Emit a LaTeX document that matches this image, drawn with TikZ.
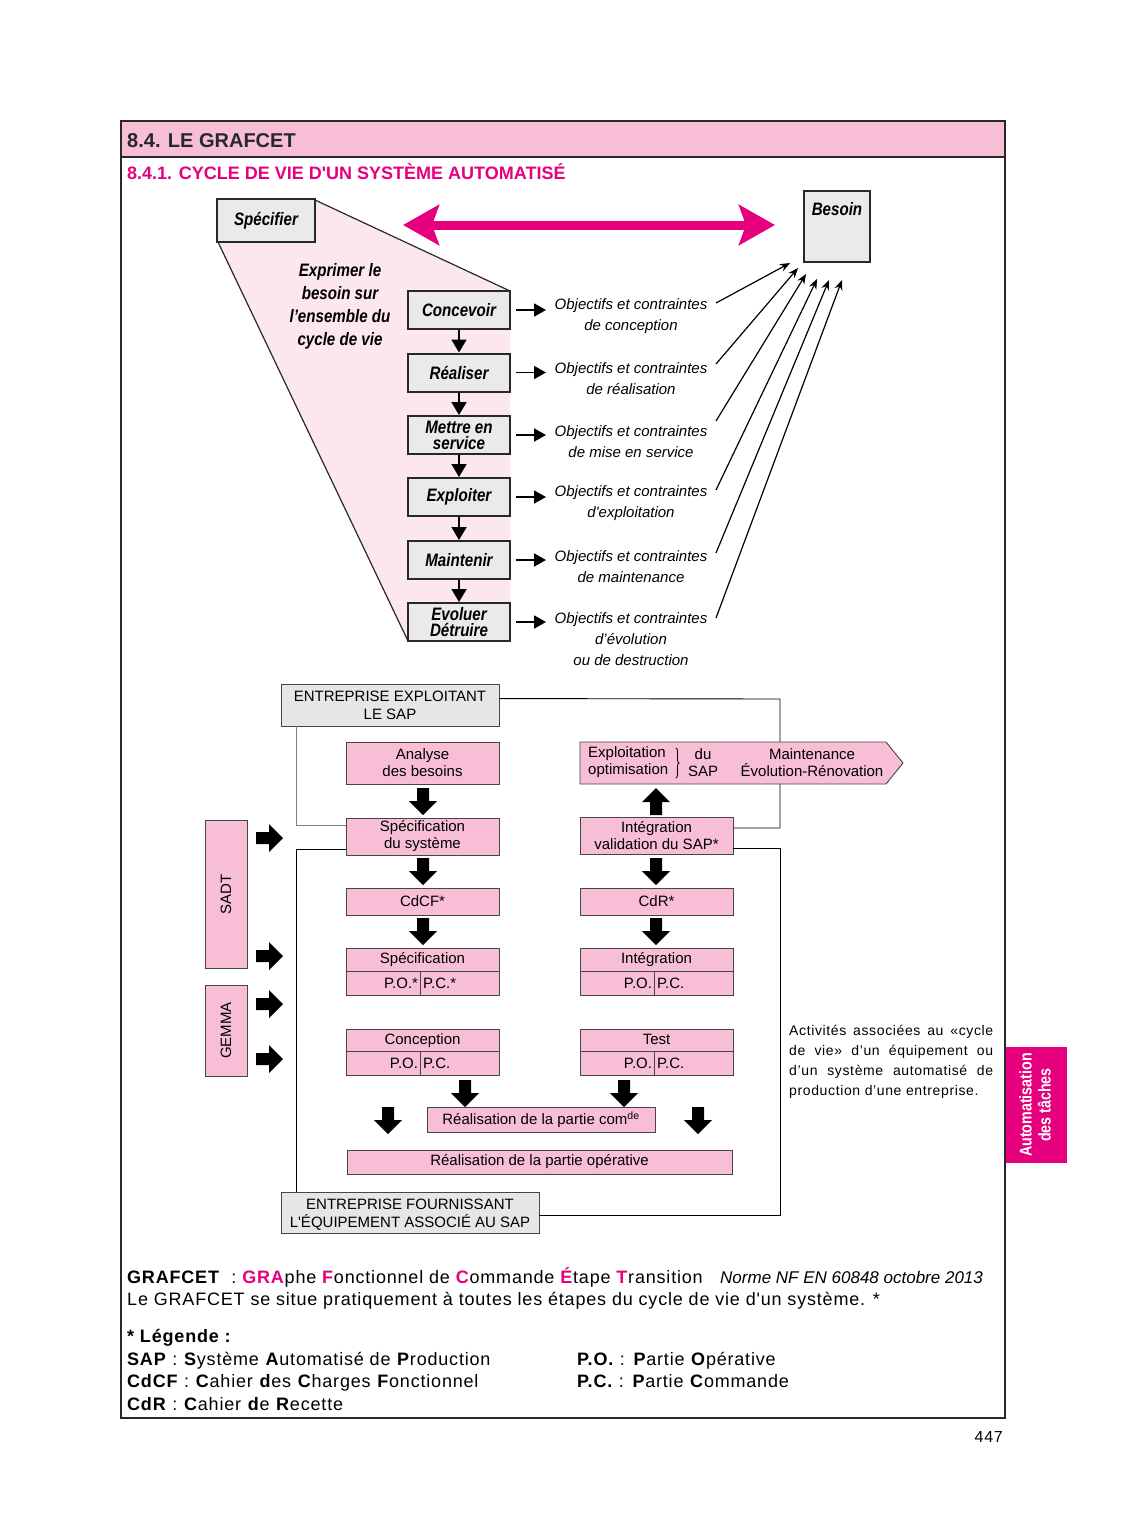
\documentclass[tikz,border=0pt]{standalone}
\usepackage{fontspec}
\setmainfont{Liberation Sans}[Ligatures=TeXOff]
\newfontfamily\cond[FakeStretch=0.84]{Liberation Sans}
\newfontfamily\trk[LetterSpace=4.5]{Liberation Sans}
\usetikzlibrary{arrows.meta,decorations.pathreplacing,calc}
\definecolor{mag}{RGB}{230,0,126}
\definecolor{pinkbox}{RGB}{247,190,214}
\definecolor{lpink}{RGB}{252,230,239}
\definecolor{greybox}{RGB}{234,234,234}
\definecolor{greybox2}{RGB}{230,230,230}
\definecolor{dk}{RGB}{40,40,40}
\definecolor{dk2}{RGB}{70,70,70}
\tikzset{
 topbox/.style={draw=dk, line width=2, fill=greybox, inner sep=0, align=center, minimum width=102, minimum height=38, font=\cond\bfseries\itshape\fontsize{18}{16}\selectfont},
 objtext/.style={font=\itshape\fontsize{15}{21}\selectfont, align=center, inner sep=0},
 pbox/.style={draw=dk2, line width=0.9, fill=pinkbox, inner sep=0, align=center, font=\fontsize{15}{17}\selectfont, minimum width=153},
 gbox/.style={draw=dk2, line width=0.9, fill=greybox2, inner sep=0, align=center, font=\fontsize{15}{18}\selectfont},
 wire/.style={line width=0.9, draw=black},
 darr/.style={line width=1.8, -{Triangle[length=13pt,width=15pt]}},
 rarr/.style={line width=1.8, -{Triangle[length=12pt,width=13pt]}},
 barr/.style={line width=1.2, -{Stealth[length=10pt,width=8pt]}},
 lcell/.style={pbox, minimum width=74, minimum height=24, text width=70, align=right, inner xsep=2},
 rcell/.style={pbox, minimum width=79, minimum height=24, text width=73, align=left, inner xsep=3},
 legend/.style={anchor=base west, inner sep=0, font=\trk\fontsize{18}{22}\selectfont},
 pics/barrow/.style={code={\fill[black] (-6,0) -- (6,0) -- (6,13) -- (14,13) -- (0,27) -- (-14,13) -- (-6,13) -- cycle;}}
}
\begin{document}
\begin{tikzpicture}[x=1pt,y=-1pt]
\useasboundingbox (0,0) rectangle (1125,1539);
\fill[white] (0,0) rectangle (1125,1539);
% header
\fill[pinkbox] (121,121) rectangle (1005,157);
\draw[line width=2, draw=dk] (121,157) -- (1005,157);
\fill[mag] (1005,1047) rectangle (1067,1163);
\draw[line width=2, draw=dk] (121,121) rectangle (1005,1418);
\node[anchor=base west, inner sep=0, font=\bfseries\fontsize{20}{22}\selectfont, text=dk] (h1) at (127,147) {8.4. LE GRAFCET};
\node[anchor=base west, inner sep=0, font=\bfseries\fontsize{18}{22}\selectfont, text=mag] (h2) at (127,179) {8.4.1. CYCLE DE VIE D'UN SYSTÈME AUTOMATISÉ};
\node[rotate=90, font=\cond\bfseries\fontsize{17}{19}\selectfont, text=white, align=center, inner sep=0] (tab) at (1035,1105) {Automatisation\\des tâches};

% top diagram
\fill[lpink] (315,200) -- (510,291) -- (510,641) -- (408,641) -- (218,242) -- (315,242) -- cycle;
\draw[line width=1.2, draw=dk] (315,200) -- (510,291);
\draw[line width=1.2, draw=dk] (218,242) -- (408,641);
\node[topbox, minimum width=98, minimum height=43] (spec) at (266,220.5) {Spécifier};
\node[font=\cond\bfseries\itshape\fontsize{18}{23}\selectfont, align=center, inner sep=0] (expr) at (340,306) {Exprimer le\\besoin sur\\l’ensemble du\\cycle de vie};
\node[topbox] (b1) at (459,310) {Concevoir};
\node[topbox] (b2) at (459,372.5) {Réaliser};
\node[topbox] (b3) at (459,435) {Mettre en\\service};
\node[topbox] (b4) at (459,497) {Exploiter};
\node[topbox] (b5) at (459,560) {Maintenir};
\node[topbox] (b6) at (459,622) {Evoluer\\Détruire};
\foreach \a/\b in {b1/b2,b2/b3,b3/b4,b4/b5,b5/b6} \draw[darr] (\a.south) -- (\b.north);
\foreach \a in {b1,b2,b3,b4,b5,b6} \draw[rarr] ($(\a.east)+(5,0)$) -- ($(\a.east)+(35,0)$);
\node[objtext] (o1) at (631,316.5) {Objectifs et contraintes\\de conception};
\node[objtext] (o2) at (631,378.5) {Objectifs et contraintes\\de réalisation};
\node[objtext] (o3) at (631,441.5) {Objectifs et contraintes\\de mise en service};
\node[objtext] (o4) at (631,503.5) {Objectifs et contraintes\\d'exploitation};
\node[objtext] (o5) at (631,566.5) {Objectifs et contraintes\\de maintenance};
\node[objtext] (o6) at (631,639) {Objectifs et contraintes\\d’évolution\\ou de destruction};
\node[topbox, minimum width=66, minimum height=71] (besoin) at (837,226.5) {};
\node[font=\cond\bfseries\itshape\fontsize{18}{16}\selectfont, inner sep=0] (besl) at (837,209) {Besoin};
\coordinate (s1) at (716,303); \coordinate (t1) at (790,263);
\coordinate (s2) at (716,364); \coordinate (t2) at (798,268);
\coordinate (s3) at (716,421); \coordinate (t3) at (806,274);
\coordinate (s4) at (716,490); \coordinate (t4) at (817,279);
\coordinate (s5) at (716,553); \coordinate (t5) at (829,280);
\coordinate (s6) at (716,618); \coordinate (t6) at (842,280);
\foreach \i in {1,...,6} \draw[barr] (s\i) -- (t\i);
\coordinate (ml) at (403,225); \coordinate (mr) at (775,225);
\draw[draw=mag, line width=9, {Stealth[length=36pt,width=40pt,inset=7pt]}-{Stealth[length=36pt,width=40pt,inset=7pt]}] (ml) -- (mr);

% middle diagram
\node[gbox, minimum width=218, minimum height=42] (ee) at (390,705) {ENTREPRISE EXPLOITANT\\LE SAP};
\node[pbox, minimum height=37] (intv) at (656.5,835.5) {Intégration\\validation du SAP*};
\node[pbox, minimum height=37] (specsys) at (422.5,836.5) {Spécification\\du système};
\node[gbox, minimum width=258, minimum height=41] (ef) at (410,1212.5) {};
% wires (behind the boxes)
\coordinate (c1) at (780,699); \coordinate (c2) at (780,828); \coordinate (c3) at (780,1215);
\draw[wire] ($(ee.north east)+(0,15)$) -- (c1) -- (c2) -- (c2 -| intv.east);
\draw[wire] ($(intv.south east)+(0,-6)$) -| (c3) -- (c3 -| ef.east);
\draw[wire, draw=gray] ($(ee.south west)+(16,0)$) |- ($(specsys.north west)+(0,8)$);
\draw[wire] ($(specsys.south west)+(0,-6)$) -| ($(ef.north west)+(16,0)$);
\node[font=\fontsize{15}{18}\selectfont, align=center, inner sep=0] (eft) at (410,1215) {ENTREPRISE FOURNISSANT\\L'ÉQUIPEMENT ASSOCIÉ AU SAP};
\node[pbox, minimum height=42] (ana) at (422.5,763) {Analyse\\des besoins};
\node[pbox, minimum height=27] (cdcf) at (422.5,901.5) {CdCF*};
\node[pbox, minimum height=23, text height=11, text depth=3] (spt) at (422.5,959.5) {Spécification};
\node[lcell] (spo) at (383,983) {P.O.*};
\node[rcell] (spc) at (459.5,983) {P.C.*};
\node[pbox, minimum height=23, text height=11, text depth=3] (cot) at (422.5,1040.5) {Conception};
\node[lcell] (cpo) at (383,1063.5) {P.O.};
\node[rcell] (cpc) at (459.5,1063.5) {P.C.};
\node[pbox, minimum height=27] (cdr) at (656.5,901.5) {CdR*};
\node[pbox, minimum height=23, text height=11, text depth=3] (itt) at (656.5,959.5) {Intégration};
\node[lcell] (ipo) at (617,983) {P.O.};
\node[rcell] (ipc) at (693.5,983) {P.C.};
\node[pbox, minimum height=23, text height=11, text depth=3] (tet) at (656.5,1040.5) {Test};
\node[lcell] (tpo) at (617,1063.5) {P.O.};
\node[rcell] (tpc) at (693.5,1063.5) {P.C.};
\node[pbox, minimum width=228, minimum height=25] (rcom) at (541,1119.5) {Réalisation de la partie com\textsuperscript{de}};
\node[pbox, minimum width=385, minimum height=24] (rop) at (539.5,1162) {Réalisation de la partie opérative};
\node[pbox, rotate=90, minimum width=148, minimum height=42] (sadt) at (226,894) {SADT};
\node[pbox, rotate=90, minimum width=91, minimum height=42] (gemma) at (226,1030.5) {GEMMA};
% exploitation arrow box
\filldraw[fill=pinkbox, draw=dk2, line width=0.9] (580,742) -- (886,742) -- (903,763) -- (886,784) -- (580,784) -- cycle;
\node[font=\fontsize{15}{17}\selectfont, align=left, anchor=west, inner sep=0] (expl) at (588,762.5) {Exploitation\\optimisation};
\draw[line width=0.8, decorate, decoration={brace, amplitude=3pt}] (676,748) -- (676,778);
\node[font=\fontsize{15}{17}\selectfont, align=center, inner sep=0] (dusap) at (703,762.5) {du\\SAP};
\node[font=\fontsize{15}{17}\selectfont, align=center, inner sep=0] (maint) at (812,762.5) {Maintenance\\Évolution-Rénovation};
% block arrows
\pic at (423,788) {barrow};
\pic at (423,858) {barrow};
\pic at (423,918) {barrow};
\pic[rotate=180] at (656,815) {barrow};
\pic at (656,858) {barrow};
\pic at (656,918) {barrow};
\pic at (465,1080) {barrow};
\pic at (624,1080) {barrow};
\pic at (388,1107) {barrow};
\pic at (698,1107) {barrow};
\foreach \yy in {838,956,1004,1059} \pic[rotate=90] at (256,\yy) {barrow};
% side note
\node[anchor=north west, inner sep=0, text width=204, align=justify, font=\trk\fontsize{14}{20}\selectfont] (note) at (789,1025) {Activités associées au «cycle\linebreak de vie» d’un équipement ou\linebreak d’un système automatisé de\linebreak production d’une entreprise.};

% legend
\node[legend] (g1) at (127,1283) {\textbf{GRAFCET}\ \ : \textcolor{mag}{\textbf{GRA}}phe \textcolor{mag}{\textbf{F}}onctionnel de \textcolor{mag}{\textbf{C}}ommande \textcolor{mag}{\textbf{É}}tape \textcolor{mag}{\textbf{T}}ransition};
\node[legend, font=\itshape\fontsize{17}{20}\selectfont] (norme) at (720,1283) {Norme NF EN 60848 octobre 2013};
\node[legend] (g2) at (127,1305) {Le GRAFCET se situe pratiquement à toutes les étapes du cycle de vie d'un système. *};
\node[legend] (g3) at (127,1342) {\textbf{* Légende :}};
\node[legend] (g4) at (127,1365) {\textbf{SAP} : \textbf{S}ystème \textbf{A}utomatisé de \textbf{P}roduction};
\node[legend] (g5) at (127,1387) {\textbf{CdCF} : \textbf{C}ahier \textbf{d}es \textbf{C}harges \textbf{F}onctionnel};
\node[legend] (g6) at (127,1410) {\textbf{CdR} : \textbf{C}ahier \textbf{d}e \textbf{R}ecette};
\node[legend] (g7) at (577,1365) {\textbf{P.O.} : \textbf{P}artie \textbf{O}pérative};
\node[legend] (g8) at (577,1387) {\textbf{P.C.} : \textbf{P}artie \textbf{C}ommande};
\node[anchor=base east, inner sep=0, font=\trk\fontsize{16}{18}\selectfont] (pg) at (1003,1442) {447};
\end{tikzpicture}
\end{document}
